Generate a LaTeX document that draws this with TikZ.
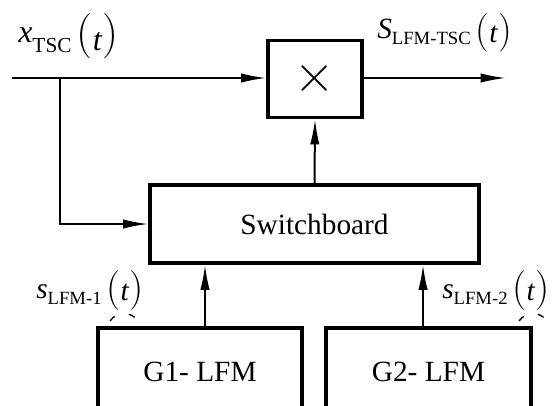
\documentclass[tikz,border=0pt]{standalone}
\usepackage{fontspec}
\setmainfont{Liberation Serif}
\newfontfamily\lmfont{Latin Modern Roman}
\usetikzlibrary{arrows.meta,calc}
\newcommand{\fs}[1]{\fontsize{#1}{#1}\selectfont}
\newcommand{\lp}[1]{{\lmfont\fs{#1}(}}
\newcommand{\rp}[1]{{\lmfont\fs{#1})}}
\begin{document}
\begin{tikzpicture}[x=0.75pt,y=-0.75pt,
  blk/.style={draw,line width=2.3pt,rectangle,inner sep=0pt,font=\fs{22}},
  con/.style={line width=1.5pt},
  arr/.style={con,-{Latex[length=19pt,width=7pt]}},
  lbl/.style={anchor=base west,inner sep=0pt},
  dashmark/.style={line width=1pt,dash pattern=on 5pt off 11pt}]
\useasboundingbox (0,0) rectangle (552,405);
\clip (0,0) rectangle (552,405);
% blocks
\node[blk,minimum width=70.5pt,minimum height=57.75pt] (mul) at (315,79) {\lmfont\fs{42}×};
\node[blk,minimum width=246.75pt,minimum height=58.5pt] (sw) at (314.5,224) {Switchboard};
\node[blk,minimum width=153pt,minimum height=66pt] (g1) at (200,372) {G1- LFM};
\node[blk,minimum width=153.75pt,minimum height=66pt] (g2) at (428.5,372) {G2- LFM};
% connectors
\coordinate (in) at (12,78);
\coordinate (br) at (60,78);
\coordinate (out) at (506,78);
\draw[arr] (in) -- (in -| mul.west);
\draw[arr] (br) |- (sw.west);
\draw[arr] (mul.east |- out) -- (out);
\draw[arr] (sw.north) -- (mul.south);
\draw[arr] ([xshift=3.75pt]g1.north) -- ([xshift=3.75pt]g1.north |- sw.south);
\draw[arr] ([xshift=-4.1pt]g2.north) -- ([xshift=-4.1pt]g2.north |- sw.south);
% labels
\node[lbl] (lx) at (18,42) {\fs{24}\textit{x}\raisebox{-7.5pt}{\fs{16}TSC}\,\raisebox{-4pt}{\lp{34}}\raisebox{-6pt}{\textit{t}}\raisebox{-4pt}{\rp{34}}};
\node[lbl] (ls) at (377,38) {\fs{22}\textit{S}\raisebox{-5pt}{\fs{14}LFM-TSC}\,\raisebox{-3pt}{\lp{29}}\raisebox{-3pt}{\textit{t}}\raisebox{-3pt}{\rp{29}}};
\node[lbl] (l1) at (36,298) {\fs{22}\textit{s}\raisebox{-5pt}{\fs{14}LFM-1}\,\raisebox{-2pt}{\lp{30}}\raisebox{-1.5pt}{\textit{t}}\raisebox{-2pt}{\rp{30}}};
\node[lbl] (l2) at (442,298) {\fs{22}\textit{s}\raisebox{-5pt}{\fs{14}LFM-2}\,\raisebox{-2pt}{\lp{30}}\raisebox{-1.5pt}{\textit{t}}\raisebox{-2pt}{\rp{30}}};
% small dashed arcs under labels
\draw[dashmark] (110,321) .. controls (117,311) and (131,311) .. (138,321);
\draw[dashmark] (519,321) .. controls (526,311) and (540,311) .. (547,321);
\end{tikzpicture}
\end{document}
